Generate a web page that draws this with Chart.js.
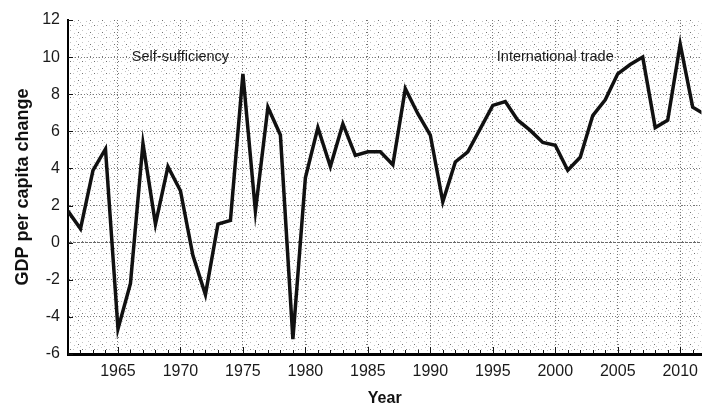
<!DOCTYPE html>
<html>
<head>
<meta charset="utf-8">
<script src="https://cdn.jsdelivr.net/npm/chart.js@4/dist/chart.umd.min.js"></script>
<style>
  html, body { margin: 0; padding: 0; background: #fff; }
  #wrap { width: 706px; height: 409px; }
</style>
</head>
<body>
<div id="wrap"><canvas id="gdpChart" width="706" height="409"></canvas></div>
<script>
const years = [1961, 1962, 1963, 1964, 1965, 1966, 1967, 1968, 1969, 1970,
  1971, 1972, 1973, 1974, 1975, 1976, 1977, 1978, 1979, 1980,
  1981, 1982, 1983, 1984, 1985, 1986, 1987, 1988, 1989, 1990,
  1991, 1992, 1993, 1994, 1995, 1996, 1997, 1998, 1999, 2000,
  2001, 2002, 2003, 2004, 2005, 2006, 2007, 2008, 2009, 2010,
  2011, 2012];
const gdpChange = [1.7, 0.75, 3.9, 5.05, -4.65, -2.2, 5.35, 1.0, 4.1, 2.8,
  -0.7, -2.8, 1.0, 1.2, 9.1, 1.7, 7.3, 5.8, -5.2, 3.5,
  6.2, 4.1, 6.4, 4.7, 4.9, 4.9, 4.2, 8.3, 6.95, 5.8,
  2.2, 4.35, 4.9, 6.15, 7.4, 7.6, 6.6, 6.05, 5.4, 5.25,
  3.9, 4.6, 6.85, 7.7, 9.1, 9.6, 10.0, 6.2, 6.6, 10.7,
  7.3, 6.9];
const xTickLabels = [1965, 1970, 1975, 1980, 1985, 1990, 1995, 2000, 2005, 2010];
const yTickLabels = [-6, -4, -2, 0, 2, 4, 6, 8, 10, 12];
const periodNames = ['Self-sufficiency', 'International trade'];
const periodYears = [1970, 2000];
const periodLevels = [10, 10];

// stippled paper texture behind the plot
function makeTexture() {
  const c = document.createElement('canvas');
  c.width = 12; c.height = 12;
  const g = c.getContext('2d');
  g.fillStyle = '#ffffff';
  g.fillRect(0, 0, 12, 12);
  const light = [[1,1],[7,2],[4,5],[10,6],[2,9],[8,10],[5,11]];
  const dark = [[10,1],[6,8]];
  g.fillStyle = '#c4c4c4';
  light.forEach(p => g.fillRect(p[0], p[1], 1, 1));
  g.fillStyle = '#707070';
  dark.forEach(p => g.fillRect(p[0], p[1], 1, 1));
  return c;
}
const texture = makeTexture();

const backdrop = {
  id: 'backdrop',
  beforeDraw(chart) {
    const {ctx, chartArea: a} = chart;
    ctx.save();
    ctx.fillStyle = ctx.createPattern(texture, 'repeat');
    ctx.fillRect(a.left, a.top, a.right - a.left, a.bottom - a.top);
    ctx.restore();
  }
};

// inward tick marks and the two period labels
const marks = {
  id: 'marks',
  afterDraw(chart) {
    const {ctx, chartArea: a, scales: {x, y}} = chart;
    ctx.save();
    ctx.strokeStyle = '#111';
    ctx.lineWidth = 1;
    ctx.beginPath();
    years.forEach(yr => {
      const px = Math.round(x.getPixelForValue(yr)) + 0.5;
      if (px > a.right) return;
      const len = yr % 5 === 0 ? 7 : 4;
      ctx.moveTo(px, a.bottom);
      ctx.lineTo(px, a.bottom - len);
    });
    yTickLabels.forEach(v => {
      const py = Math.round(y.getPixelForValue(v)) + 0.5;
      ctx.moveTo(a.left, py);
      ctx.lineTo(a.left + 5, py);
    });
    ctx.stroke();

    ctx.fillStyle = '#1a1a1a';
    ctx.font = '14.5px "Liberation Sans", Arial, sans-serif';
    ctx.textAlign = 'center';
    ctx.textBaseline = 'middle';
    periodNames.forEach((name, i) => {
      ctx.fillText(name, x.getPixelForValue(periodYears[i]), y.getPixelForValue(periodLevels[i]));
    });
    ctx.restore();
  }
};

const ctx = document.getElementById('gdpChart').getContext('2d');

const gdpChart = new Chart(ctx, {
  type: 'line',
  data: {
    datasets: [{
      label: 'GDP per capita change',
      data: years.map((yr, i) => ({x: yr, y: gdpChange[i]})),
      borderColor: '#111',
      borderWidth: 3.5,
      borderJoinStyle: 'miter',
      pointRadius: 0,
      tension: 0,
      fill: false,
      clip: 0
    }]
  },
  options: {
    responsive: false,
    animation: false,
    layout: { padding: { top: 20, right: 0, left: 0, bottom: 0 } },
    plugins: {
      legend: { display: false },
      tooltip: { enabled: false }
    },
    scales: {
      x: {
        type: 'linear',
        min: 1961,
        max: 2011.7,
        afterBuildTicks(scale) {
          scale.ticks = xTickLabels.map(v => ({value: v}));
        },
        afterFit(scale) { scale.height = 55; },
        grid: {
          color: '#7a7a7a',
          lineWidth: 1,
          drawTicks: false
        },
        border: { color: '#000', width: 3, dash: [1, 2] },
        ticks: {
          color: '#1a1a1a',
          padding: 8,
          maxRotation: 0,
          font: { family: '"Liberation Sans", Arial, sans-serif', size: 16 },
          callback: v => String(v)
        },
        title: {
          display: true,
          text: 'Year',
          color: '#111',
          padding: { top: 4, bottom: 1 },
          font: { family: '"Liberation Sans", Arial, sans-serif', size: 16, weight: 'bold' }
        }
      },
      y: {
        min: -6,
        max: 12,
        afterBuildTicks(scale) {
          scale.ticks = yTickLabels.map(v => ({value: v}));
        },
        afterFit(scale) { scale.width = 68; },
        grid: {
          color: c => (c.tick && (c.tick.value === 12 || c.tick.value === -6)) ? 'rgba(0,0,0,0)' : (c.tick && c.tick.value === 0 ? '#6a6a6a' : '#7a7a7a'),
          lineWidth: 1,
          drawTicks: false
        },
        border: {
          color: '#000',
          width: 2,
          dash: c => (c.tick && c.tick.value === 0) ? [3, 1] : [1, 2]
        },
        ticks: {
          color: '#1a1a1a',
          padding: 8,
          font: { family: '"Liberation Sans", Arial, sans-serif', size: 16 }
        },
        title: {
          display: true,
          text: 'GDP per capita change',
          color: '#111',
          padding: { top: 12, bottom: 0 },
          font: { family: '"Liberation Sans", Arial, sans-serif', size: 18, weight: 'bold' }
        }
      }
    }
  },
  plugins: [backdrop, marks]
});
</script>
</body>
</html>
